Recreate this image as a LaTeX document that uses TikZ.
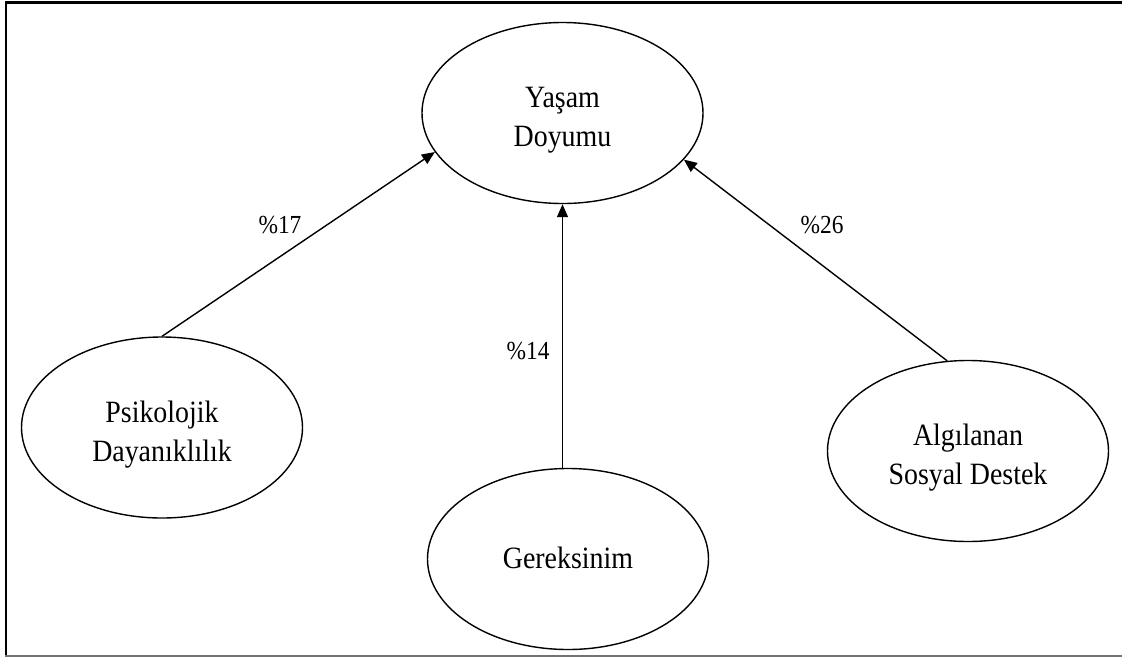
\documentclass[tikz,border=0pt]{standalone}
\usepackage{fontspec}
\setmainfont{Liberation Serif}[FakeStretch=0.9]
\usetikzlibrary{shapes.geometric,arrows.meta}

\tikzset{
  oval/.style={ellipse, draw=black, line width=1.4pt, minimum width=281pt,
    minimum height=181pt, inner sep=0pt},
  txt/.style={align=center, inner sep=0pt, font=\fontsize{31}{39}\selectfont},
  pct/.style={inner sep=0pt, anchor=base, font=\fontsize{26}{30}\selectfont},
  arr/.style={line width=1.4pt, -{Triangle[length=13pt,width=11pt]}}
}

\begin{document}
\begin{tikzpicture}[x=1pt,y=-1pt]
  \useasboundingbox (0,0) rectangle (1122,657);

  % page frame: heavy top and left rules, thin grey bottom rule
  \draw[line width=3pt] (5,2.5) -- (1122,2.5);
  \draw[line width=2.5pt] (6,1) -- (6,657);
  \draw[line width=1.5pt, black!55] (5,656) -- (1122,656);

  % constructs
  \node[oval] (yas) at (562.5,113) {};
  \node[oval] (psi) at (162,427.5) {};
  \node[oval] (ger) at (568,559) {};
  \node[oval] (alg) at (968,451) {};

  \node[txt] (yasT) at ([yshift=-7pt]yas.center) {Yaşam\\Doyumu};
  \node[txt] (psiT) at ([yshift=-7pt]psi.center) {Psikolojik\\Dayanıklılık};
  \node[txt] (gerT) at ([yshift=1pt]ger.center) {Gereksinim};
  \node[txt] (algT) at ([yshift=-7pt]alg.center) {Algılanan\\Sosyal Destek};

  % predictive paths
  \draw[arr] (psi.north) -- (yas.-163);
  \draw[arr] (ger.north -| yas.south) -- (yas.south);
  \draw[arr] (alg.103) -- (yas.-21);

  % explained variance
  \node[pct] (p17) at (280,233) {\%17};
  \node[pct] (p14) at (528,359) {\%14};
  \node[pct] (p26) at (822,233) {\%26};
\end{tikzpicture}
\end{document}
